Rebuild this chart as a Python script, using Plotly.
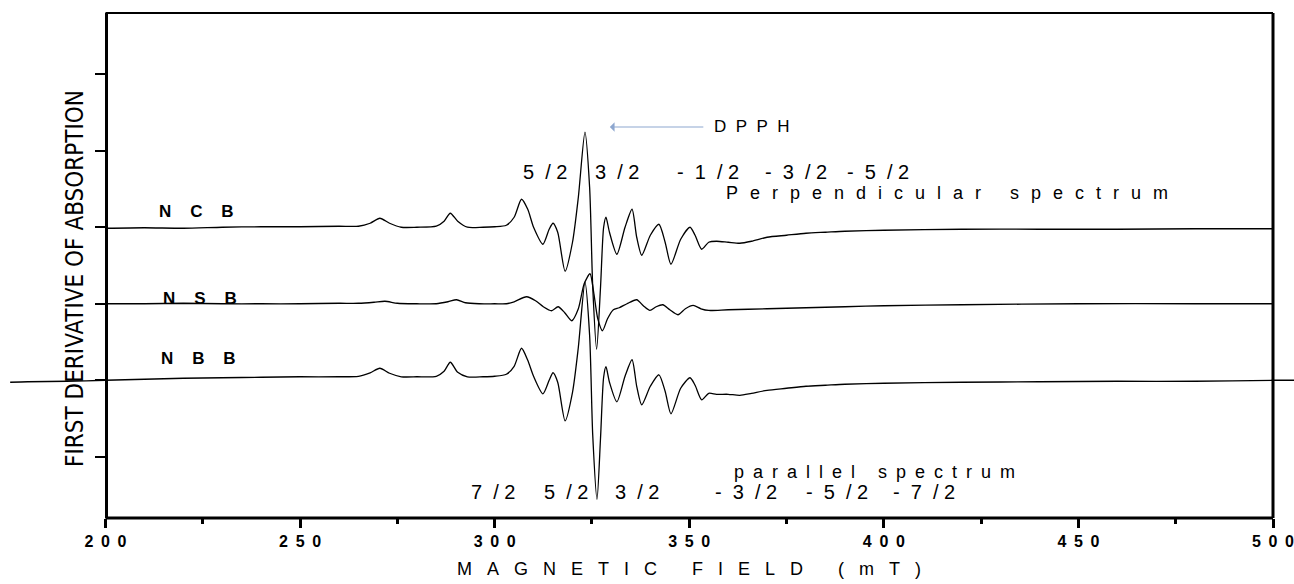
import numpy as np
import plotly.graph_objects as go

# ---------------- data ----------------
# magnetic field (mT) and first-derivative signal (a.u., 76.5 a.u. = one y tick)
ncb_field = [200, 210, 220, 230, 240, 250, 260, 265, 268, 270.5, 273, 276, 280, 285, 287, 288.6,
             290.5, 293, 297, 300, 303, 305, 306.9, 308.5, 310, 312.4, 314, 315, 316.2, 318.1,
             320, 321.5, 323.2, 324.4, 325.2, 326.2, 327.2, 328, 328.6, 329.5, 331.4, 333.5,
             335.3, 336.5, 337.8, 340, 342.2, 343.8, 345.3, 347.8, 350.2, 351.5, 353.2, 355,
             357, 360, 363, 366, 370, 375, 380, 385, 390, 400, 420, 440, 460, 480, 500]
ncb_signal = [-1, -0.5, -1, 0, 0.5, 0.5, 1, 1, 4, 9, 4, 0, 0, 1, 6, 14,
              6, 0, 0, 0.5, 2, 10, 28, 18, 0, -17, -2, 4, -5, -44,
              -15, 30, 95, 40, -60, -122, -60, 0, 10, -5, -27, 0,
              18, -10, -28, -8, 3, -15, -37, -12, 0, -8, -22, -15,
              -14, -15, -16, -14, -10, -8, -6, -5, -4, -3, -2, -2, -2, -1.5, -1.5]

nsb_field = [200, 210, 220, 230, 240, 250, 260, 265, 269, 271.8, 275, 280, 285, 288, 290.2,
             292.5, 296, 300, 303, 305, 308.2, 310.5, 312.5, 314.6, 316.3, 318, 319.8, 321.5,
             323, 324.5, 325.5, 326.5, 327.7, 329, 330.5, 332, 334, 336.5, 338.2, 339.9, 341.5,
             343.2, 345, 347.1, 349, 351, 353, 355, 360, 370, 380, 390, 400, 420, 450, 480, 500]
nsb_signal = [0, 0, 0.5, 0, 0, 0, 0.5, 0.5, 1.5, 2.5, 0.5, 0, 0, 2, 4,
              1, 0, 0, 0, 2, 7, 3, -3, -7, -3, -9, -17, -5,
              20, 30, 10, -15, -27, -15, -6, -4, 0, 4, -2, -6.7, -3,
              -1, -6, -11, -5, -1.7, -5, -6.7, -6, -5, -4, -3, -2, -1, 0, 0, 0]

nbb_field = [175.5, 180, 190, 200, 210, 220, 230, 240, 250, 260, 265, 268, 270.5, 273, 276, 280,
             285, 287, 288.6, 290.5, 293, 297, 300, 303, 305, 306.9, 308.5, 310, 312.4, 314, 315,
             316.2, 318.1, 320, 321.5, 323.2, 324.4, 325.2, 326.3, 327.2, 328, 328.6, 329.5, 331.4,
             333.5, 335.3, 336.5, 337.8, 340, 342.2, 343.8, 345.3, 347.8, 350.2, 351.5, 353.2, 355,
             357, 360, 363, 366, 370, 375, 380, 385, 390, 400, 420, 440, 460, 480, 500, 505.4]
nbb_signal = [-2, -1.5, -1, 0, 1, 2, 2.5, 3, 3.5, 3.5, 4, 7.5, 12, 7, 3.5, 3.5,
              4, 9, 18, 8, 3.5, 3.5, 4, 6, 14, 32, 20, 4, -13.5, 0, 7.5,
              -2, -40.5, -12, 33, 98, 45, -55, -119, -58, 3, 13.5, -2, -21.5,
              4, 20.5, -6, -24.5, -6, 5.5, -11, -33.5, -8, 2.5, -5, -19.5, -13,
              -14, -14, -15, -13, -10, -8, -6, -5, -4, -3, -2, -1.5, -1, -1, 0, 0]

sample_names = ["NCB", "NSB", "NBB"]
baselines = [4, 3, 2]            # stacking offsets, in y-tick units
signal_per_tick = 76.5           # a.u. per y tick
name_fields = [223.5, 224.3, 224.0]
name_levels = [4.20, 3.075, 2.29]

x_tick_values = [200, 250, 300, 350, 400, 450, 500]
x_minor_values = [225, 275, 325, 375, 425, 475]
y_tick_values = [1, 2, 3, 4, 5, 6]

perp_labels = ["5/2", "3/2", "-1/2", "-3/2", "-5/2"]
perp_label_fields = [312.9, 331.4, 354.8, 377.4, 398.5]
par_labels = ["7/2", "5/2", "3/2", "-3/2", "-5/2", "-7/2"]
par_label_fields = [299.6, 318.3, 336.6, 364.6, 388.0, 410.3]

# ---------------- layout constants ----------------
W, H = 1294, 584
PLOT_L, PLOT_R = 105.5, 1273     # pixel edges of the frame
PLOT_T, PLOT_B = 13, 518
X_RANGE = [200, 500]
Y_RANGE = [0.2, 6.8]
FONT = "Liberation Sans, Arial, sans-serif"
NB = "\u00a0"


def spaced(s, gap=NB):
    return gap.join(list(s))


def frac_label(s):
    # "5/2" -> "5  /2", "-1/2" -> "-  1  /2"
    num, den = s.split("/")
    if num.startswith("-"):
        num = "-" + NB * 2 + num[1:]
    return num + NB * 2 + "/" + NB + den


px_per_mT = (PLOT_R - PLOT_L) / (X_RANGE[1] - X_RANGE[0])
full_range = [X_RANGE[0] - PLOT_L / px_per_mT, X_RANGE[1] + (W - PLOT_R) / px_per_mT]

fig = go.Figure()
for fld, sig, base, name in zip([ncb_field, nsb_field, nbb_field],
                                [ncb_signal, nsb_signal, nbb_signal], baselines, sample_names):
    y = base + np.array(sig) / signal_per_tick
    fig.add_trace(go.Scatter(x=fld, y=y, mode="lines", name=name,
                             line=dict(color="black", width=1.3, shape="spline", smoothing=0.7),
                             showlegend=False, hoverinfo="skip"))

fig.update_layout(
    width=W, height=H,
    margin=dict(l=0, r=0, t=PLOT_T, b=H - PLOT_B, pad=0, autoexpand=False),
    paper_bgcolor="white", plot_bgcolor="rgba(0,0,0,0)",
    xaxis=dict(domain=[0, 1], range=full_range, showgrid=False, zeroline=False,
               showline=False, automargin=False, ticklabeloverflow="allow",
               tickmode="array", tickvals=x_tick_values,
               ticktext=["<b>" + spaced(str(v), NB + "\u2009") + "</b>" for v in x_tick_values],
               ticks="outside", ticklen=9, tickwidth=3, tickcolor="black",
               tickfont=dict(family=FONT, size=16, color="black"),
               minor=dict(tickvals=x_minor_values, ticks="outside", ticklen=5, tickwidth=3,
                          tickcolor="black", showgrid=False)),
    yaxis=dict(domain=[0, 1], range=Y_RANGE, showgrid=False, zeroline=False,
               anchor="free", position=PLOT_L / W, automargin=False,
               showline=True, linecolor="black", linewidth=3,
               tickmode="array", tickvals=y_tick_values, showticklabels=False,
               ticks="outside", ticklen=10, tickwidth=1.5, tickcolor="black"),
    shapes=[
        dict(type="line", xref="x", yref="y domain", x0=X_RANGE[0], x1=X_RANGE[1], y0=0, y1=0,
             line=dict(color="black", width=3)),
        dict(type="line", xref="x", yref="y domain", x0=X_RANGE[0], x1=X_RANGE[1], y0=1, y1=1,
             line=dict(color="black", width=2)),
        dict(type="line", xref="x", yref="y domain", x0=X_RANGE[1], x1=X_RANGE[1], y0=0, y1=1,
             line=dict(color="black", width=3)),
    ],
)

ann = []
for name, fld, lvl in zip(sample_names, name_fields, name_levels):
    ann.append(dict(x=fld, y=lvl, xref="x", yref="y",
                    text="<b>" + spaced(name, NB * 4) + "</b>", showarrow=False,
                    font=dict(family=FONT, size=17, color="black"),
                    xanchor="center", yanchor="middle"))

# DPPH arrow and label
ann.append(dict(x=329.6, y=5.31, ax=354.0, ay=5.31, xref="x", yref="y", axref="x", ayref="y",
                text="", showarrow=True, arrowhead=1, arrowsize=1.3, arrowwidth=1.2,
                arrowcolor="#8ea7cf"))
ann.append(dict(x=366.1, y=5.32, xref="x", yref="y", text=spaced("DPPH", NB * 2),
                showarrow=False, font=dict(family=FONT, size=17, color="black"),
                xanchor="center", yanchor="middle"))

for t, f in zip(perp_labels, perp_label_fields):
    ann.append(dict(x=f, y=4.72, xref="x", yref="y", text=frac_label(t), showarrow=False,
                    font=dict(family=FONT, size=20, color="black"),
                    xanchor="center", yanchor="middle"))
ann.append(dict(x=359.0, y=4.447, xref="x", yref="y",
                text=spaced("Perpendicular spectrum", "\u2002\u2006"), showarrow=False,
                font=dict(family=FONT, size=18, color="black"), xanchor="left", yanchor="middle"))

for t, f in zip(par_labels, par_label_fields):
    ann.append(dict(x=f, y=0.54, xref="x", yref="y", text=frac_label(t), showarrow=False,
                    font=dict(family=FONT, size=20, color="black"),
                    xanchor="center", yanchor="middle"))
ann.append(dict(x=361.0, y=0.80, xref="x", yref="y",
                text=spaced("parallel spectrum", "\u2002"), showarrow=False,
                font=dict(family=FONT, size=18, color="black"), xanchor="left", yanchor="middle"))

# axis titles
ann.append(dict(x=(X_RANGE[0] + X_RANGE[1]) / 2, y=-(569 - PLOT_B) / (PLOT_B - PLOT_T),
                xref="x", yref="paper",
                text=spaced("MAGNETIC FIELD (mT)", NB * 3), showarrow=False,
                font=dict(family=FONT, size=18, color="black"), xanchor="center", yanchor="middle"))
ann.append(dict(x=75 / W, y=(PLOT_B - 279) / (PLOT_B - PLOT_T), xref="paper", yref="paper",
                text="FIRST DERIVATIVE OF ABSORPTION", textangle=-90, showarrow=False,
                font=dict(family="Liberation Sans Narrow, DejaVu Sans Condensed, Liberation Sans",
                          size=24, color="black"),
                xanchor="center", yanchor="middle"))

fig.update_layout(annotations=ann)
fig.write_html("out.html", config={"displayModeBar": False},
               post_script="document.body.style.margin='0px';")
